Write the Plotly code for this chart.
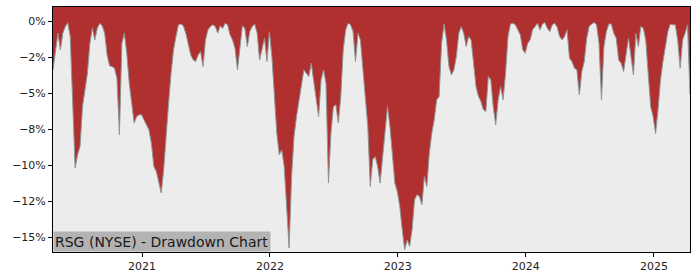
import pandas as pd
import plotly.graph_objects as go

# Drawdown (%) for RSG, read roughly weekly from the reference chart
drawdown = [
    -3.38, -2.22, -0.83, -1.99, -0.83, -0.37, -0.10, -1.06, -6.16, -10.21,
    -9.28, -8.70, -5.93, -4.77, -3.61, -1.53, -0.49, -1.30, -0.49, -0.14,
    -0.32, -0.83, -2.34, -3.10, -3.15, -3.26, -3.96, -7.89, -1.53, -0.83,
    -2.22, -4.31, -5.93, -7.08, -6.62, -6.50, -6.50, -6.85, -7.31, -7.55,
    -8.47, -10.09, -10.44, -11.13, -11.94, -10.32, -7.78, -5.69, -3.61, -1.99,
    -1.06, -0.25, -0.19, -0.32, -0.83, -1.53, -2.34, -2.69, -2.80, -2.34,
    -2.11, -3.15, -1.30, -0.60, -0.37, -0.25, -0.37, -0.83, -0.32, -0.49,
    -0.14, -0.25, -0.95, -1.30, -1.88, -3.38, -1.76, -0.32, -0.49, -1.76,
    -0.72, -0.37, -0.19, -0.83, -2.69, -1.99, -1.18, -2.80, -0.72, -2.45,
    -5.46, -7.78, -9.28, -8.94, -10.09, -12.87, -15.76, -10.79, -8.01, -6.62,
    -5.46, -4.54, -3.38, -3.61, -3.84, -2.92, -4.19, -5.46, -6.62, -4.07,
    -3.38, -4.31, -11.25, -7.78, -5.93, -5.81, -7.08, -5.23, -1.99, -0.60,
    -0.14, -0.25, -0.72, -2.80, -0.83, -1.30, -3.15, -5.46, -7.31, -11.48,
    -9.63, -9.40, -10.09, -11.25, -9.63, -7.78, -5.93, -7.31, -9.63, -11.25,
    -11.83, -12.87, -14.49, -15.88, -15.19, -15.65, -14.49, -12.41, -12.06, -12.18,
    -12.75, -10.79, -11.48, -9.17, -7.78, -6.85, -5.46, -5.23, -1.53, -0.19,
    -1.30, -3.15, -3.73, -3.38, -2.45, -0.83, -0.37, -0.83, -1.76, -1.06,
    -1.30, -3.15, -4.54, -5.23, -5.58, -6.16, -6.27, -3.84, -4.07, -5.93,
    -7.20, -5.46, -4.54, -5.46, -3.61, -1.06, -0.19, -0.14, -0.25, -0.60,
    -0.95, -1.99, -2.22, -1.53, -1.30, -0.60, -0.37, -0.14, -0.60, -0.19,
    -0.09, -0.49, -0.72, -0.25, -0.14, -0.42, -1.06, -1.30, -1.06, -0.60,
    -2.57, -2.80, -3.26, -3.38, -5.12, -3.50, -2.80, -1.18, -0.37, -0.19,
    -0.09, -0.25, -1.53, -5.46, -1.76, -0.72, -0.19, -0.19, -0.83, -1.18,
    -2.69, -2.92, -3.50, -2.45, -1.18, -2.45, -3.73, -0.83, -1.76, -0.37,
    -0.49, -1.30, -3.38, -5.93, -6.62, -7.80, -6.16, -4.07, -2.80, -1.76,
    -0.72, -0.19, -0.25, -0.25, -1.30, -3.26, -1.30, -0.83, -0.25, -5.12,
]
start_date = "2020-04-22"
end_date = "2025-04-14"
dates = pd.date_range(start_date, end_date, periods=len(drawdown))

y_range = [-16.04, 0.99]
y_tickvals = [0, -2.5, -5, -7.5, -10, -12.5, -15]
y_ticktext = ["0%", "\u22122%", "\u22125%", "\u22128%", "\u221210%", "\u221212%", "\u221215%"]
x_tickvals = ["2021-01-01", "2022-01-01", "2023-01-01", "2024-01-01", "2025-01-01"]
x_ticktext = ["2021", "2022", "2023", "2024", "2025"]
title_text = "RSG (NYSE) - Drawdown Chart"

RED = "#b03030"
BG = "#ececec"

fig = go.Figure()
# upper boundary of the red area: the top of the axes
fig.add_trace(go.Scatter(
    x=dates, y=[y_range[1]] * len(dates), mode="lines",
    line=dict(width=0, color=RED), hoverinfo="skip", showlegend=False,
))
fig.add_trace(go.Scatter(
    x=dates, y=drawdown, mode="lines", fill="tonexty",
    fillcolor=RED, line=dict(color="#939393", width=1),
    hoverinfo="skip", showlegend=False,
))

fig.add_annotation(
    text=title_text, xref="paper", yref="paper", x=0, y=0,
    xanchor="left", yanchor="bottom", showarrow=False,
    bgcolor="#b3b3b3", borderpad=1, width=214, height=17, align="left",
    font=dict(family="DejaVu Sans", size=14, color="#1a1a1a"),
)

fig.update_layout(
    width=700, height=280,
    margin=dict(l=53, r=10, t=7, b=28),
    paper_bgcolor="white", plot_bgcolor=BG,
    font=dict(family="DejaVu Sans", size=11, color="#222222"),
    showlegend=False,
)
fig.update_xaxes(
    range=[dates[0], dates[-1]], showgrid=False, zeroline=False,
    showline=True, mirror=True, linecolor="black", linewidth=1,
    ticks="outside", ticklen=4, tickcolor="black",
    tickvals=x_tickvals, ticktext=x_ticktext,
)
fig.update_yaxes(
    range=y_range, showgrid=False, zeroline=False,
    showline=True, mirror=True, linecolor="black", linewidth=1,
    ticks="outside", ticklen=4, tickcolor="black",
    tickvals=y_tickvals, ticktext=y_ticktext,
)

fig.write_html("out.html")
